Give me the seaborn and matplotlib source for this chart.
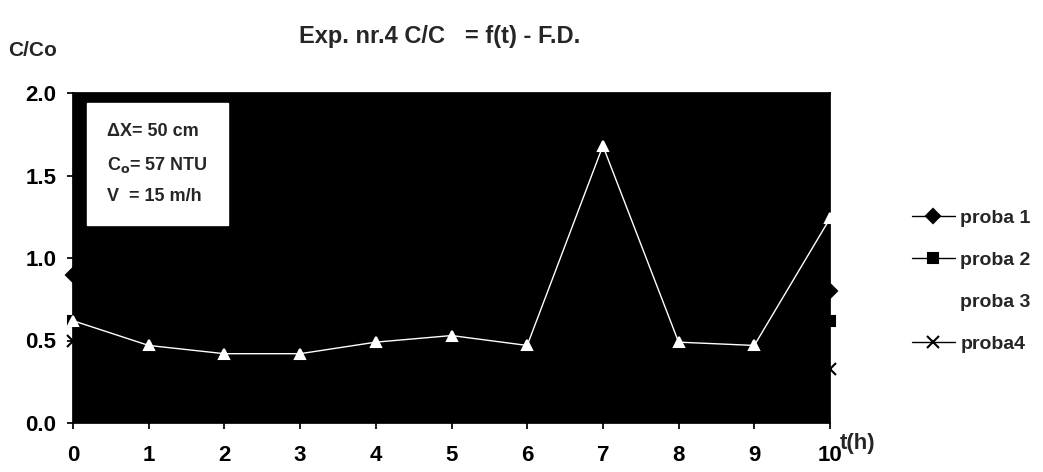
import matplotlib
matplotlib.use("Agg")
import matplotlib.pyplot as plt
import seaborn as sns
import pandas as pd

t = [0, 1, 2, 3, 4, 5, 6, 7, 8, 9, 10]
proba1 = [0.90, 0.82, 0.78, 0.75, 0.80, 0.85, 0.78, 0.95, 0.80, 0.78, 0.80]
proba2 = [0.62, 0.58, 0.55, 0.52, 0.58, 0.60, 0.55, 0.70, 0.60, 0.58, 0.62]
proba3 = [0.62, 0.47, 0.42, 0.42, 0.49, 0.53, 0.47, 1.68, 0.49, 0.47, 1.24]
proba4 = [0.50, 0.42, 0.38, 0.35, 0.40, 0.42, 0.38, 0.45, 0.36, 0.34, 0.33]
series_names = ["proba 1", "proba 2", "proba 3", "proba4"]
yticks = [0.0, 0.5, 1.0, 1.5, 2.0]

sns.set_theme(style="white")
plt.rcParams['font.family'] = ['Liberation Sans', 'DejaVu Sans']
plt.rcParams['font.weight'] = 'bold'

fig = plt.figure(figsize=(10.43, 4.72), dpi=100)
ax = fig.add_axes([73/1043, 1 - 423/472, (830-73)/1043, (423-93)/472])
ax.set_facecolor("black")

styles = [
    (proba1, "D", "black", "black", 7, 2),
    (proba2, "s", "black", "black", 7, 2),
    (proba3, "^", "white", "white", 7, 5),
    (proba4, "x", "black", "black", 8, 3),
]
for name, (vals, mk, lc, mc, ms, z) in zip(series_names, styles):
    df = pd.DataFrame({"t": t, "v": vals})
    sns.lineplot(data=df, x="t", y="v", ax=ax, color=lc, marker=mk,
                 markersize=ms, markerfacecolor=mc, markeredgecolor=mc,
                 markeredgewidth=1.5, linewidth=1.0, label=name, clip_on=False,
                 zorder=z)

ax.set_xlim(0, 10)
ax.set_ylim(0, 2.0)
ax.set_xticks(t)
ax.set_xticklabels([str(v) for v in t], fontsize=16, fontweight='bold')
ax.set_yticks(yticks)
ax.set_yticklabels([f"{v:.1f}" for v in yticks], fontsize=16, fontweight='bold')
ax.tick_params(axis='x', pad=12, length=4, direction='out', bottom=True, colors='black')
ax.tick_params(axis='y', pad=8, length=4, direction='out', left=True, colors='black')
ax.set_xlabel("")
ax.set_ylabel("")
for s in ax.spines.values():
    s.set_color("black")

fig.text(440/1043, 1 - 37/472, "Exp. nr.4 C/C   = f(t) - F.D.", ha='center', va='center',
         fontsize=17, fontweight='bold')
fig.text(8/1043, 1 - 50/472, "C/Co", ha='left', va='center', fontsize=15, fontweight='bold')
fig.text(840/1043, 1 - 444/472, "t(h)", ha='left', va='center', fontsize=16, fontweight='bold')

ax.text(0.045, 0.91, "\u0394X= 50 cm\nC$_\\mathbf{o}$= 57 NTU\nV  = 15 m/h",
        transform=ax.transAxes, ha='left', va='top', fontsize=13, fontweight='bold',
        linespacing=2.0,
        bbox=dict(boxstyle="square,pad=1.1", facecolor="white", edgecolor="white"))

leg = ax.legend(loc='center left', bbox_to_anchor=(1.085, 0.43), frameon=False,
                fontsize=14, handlelength=2.2, handletextpad=0.3, labelspacing=1.25)
for txt in leg.get_texts():
    txt.set_fontweight('bold')

fig.savefig("out.png", dpi=100, facecolor="white")
